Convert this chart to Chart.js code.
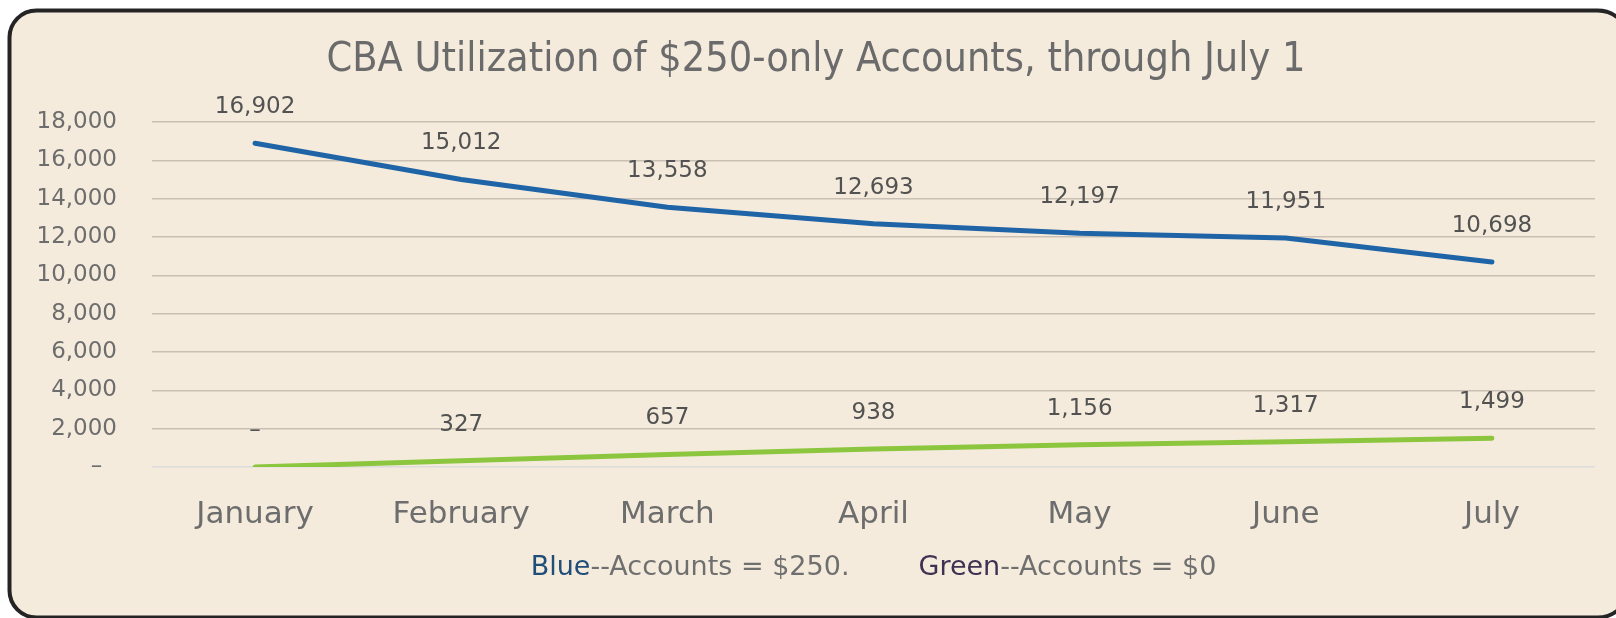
<!DOCTYPE html>
<html>
<head>
<meta charset="utf-8">
<script src="https://cdn.jsdelivr.net/npm/chart.js@4/dist/chart.umd.min.js"></script>
<style>
  html, body { margin: 0; padding: 0; background: #ffffff; overflow: hidden; }
  #chart { display: block; }
</style>
</head>
<body>
<canvas id="chart" width="1616" height="618"></canvas>
<script>
// data
const months = ['January', 'February', 'March', 'April', 'May', 'June', 'July'];
const accounts250 = [16902, 15012, 13558, 12693, 12197, 11951, 10698];
const accounts0 = [0, 327, 657, 938, 1156, 1317, 1499];
const titleText = 'CBA Utilization of $250-only Accounts, through July 1';

const fmt = v => v === 0 ? '\u2013' : v.toLocaleString('en-US');

// beige rounded panel behind the chart (runs off the right edge like the original)
const panel = {
  id: 'panel',
  beforeDraw(chart) {
    const ctx = chart.ctx;
    ctx.save();
    ctx.beginPath();
    ctx.roundRect(9.5, 10.5, 1620, 607, [27, 32, 32, 27]);
    ctx.fillStyle = '#f4ebdc';
    ctx.fill();
    ctx.lineWidth = 4;
    ctx.strokeStyle = '#242424';
    ctx.stroke();
    ctx.restore();
  }
};

// value labels above each point
const valueLabels = {
  id: 'valueLabels',
  afterDatasetsDraw(chart) {
    const ctx = chart.ctx;
    ctx.save();
    ctx.font = '23px "DejaVu Sans"';
    ctx.fillStyle = '#525252';
    ctx.textAlign = 'center';
    ctx.textBaseline = 'middle';
    chart.data.datasets.forEach((ds, i) => {
      chart.getDatasetMeta(i).data.forEach((pt, j) => {
        ctx.fillText(fmt(ds.data[j]), pt.x, pt.y - 36);
      });
    });
    ctx.restore();
  }
};

// text legend under the axis: coloured word + grey rest
const textLegend = {
  id: 'textLegend',
  afterDraw(chart) {
    const ctx = chart.ctx;
    const area = chart.chartArea;
    const parts = [
      ['Blue', '#1f4e79'], ['--Accounts = $250.', '#6f6f6f'], [null, 69],
      ['Green', '#3f3152'], ['--Accounts = $0', '#6f6f6f']
    ];
    ctx.save();
    ctx.font = '27px "DejaVu Sans"';
    ctx.textBaseline = 'middle';
    ctx.textAlign = 'left';
    let total = 0;
    parts.forEach(p => { total += p[0] === null ? p[1] : ctx.measureText(p[0]).width; });
    let x = (area.left + area.right) / 2 - total / 2;
    const y = area.bottom + 101;
    parts.forEach(p => {
      if (p[0] === null) { x += p[1]; return; }
      ctx.fillStyle = p[1];
      ctx.fillText(p[0], x, y);
      x += ctx.measureText(p[0]).width;
    });
    ctx.restore();
  }
};

new Chart(document.getElementById('chart'), {
  type: 'line',
  data: {
    labels: months,
    datasets: [{
      label: 'Accounts = $250',
      data: accounts250,
      borderColor: '#1f64a6',
      borderWidth: 5,
      borderCapStyle: 'round',
      pointRadius: 0,
      fill: false,
      tension: 0
    }, {
      label: 'Accounts = $0',
      data: accounts0,
      borderColor: '#8cc63f',
      borderWidth: 5,
      borderCapStyle: 'round',
      pointRadius: 0,
      fill: false,
      tension: 0
    }]
  },
  options: {
    responsive: false,
    animation: false,
    devicePixelRatio: 1,
    layout: { padding: { left: 37, right: 21, top: 0, bottom: 0 } },
    plugins: {
      legend: { display: false },
      tooltip: { enabled: false },
      title: {
        display: true,
        text: titleText,
        color: '#6b6b6b',
        font: { family: '"DejaVu Sans Condensed", "DejaVu Sans"', size: 41, weight: 'normal', lineHeight: 1.2 },
        padding: { top: 36, bottom: 37 }
      }
    },
    scales: {
      x: {
        offset: true,
        grid: { display: false, drawTicks: false },
        border: { display: false },
        ticks: { color: '#6d6d6d', padding: 29, font: { family: '"DejaVu Sans"', size: 31 } },
        afterFit(scale) { scale.height = 151; }
      },
      y: {
        min: 0,
        max: 18000,
        grid: {
          drawTicks: false,
          lineWidth: 1.5,
          color: c => c.tick && c.tick.value === 0 ? '#dcdcdc' : '#c9c0b3'
        },
        border: { display: false },
        ticks: {
          stepSize: 2000,
          color: '#6d6d6d',
          padding: 35,
          font: { family: '"DejaVu Sans"', size: 23 },
          callback: v => v === 0 ? '\u2013\u2007' : v.toLocaleString('en-US')
        },
        afterFit(scale) { scale.width = 115; }
      }
    }
  },
  plugins: [panel, valueLabels, textLegend]
});
</script>
</body>
</html>
